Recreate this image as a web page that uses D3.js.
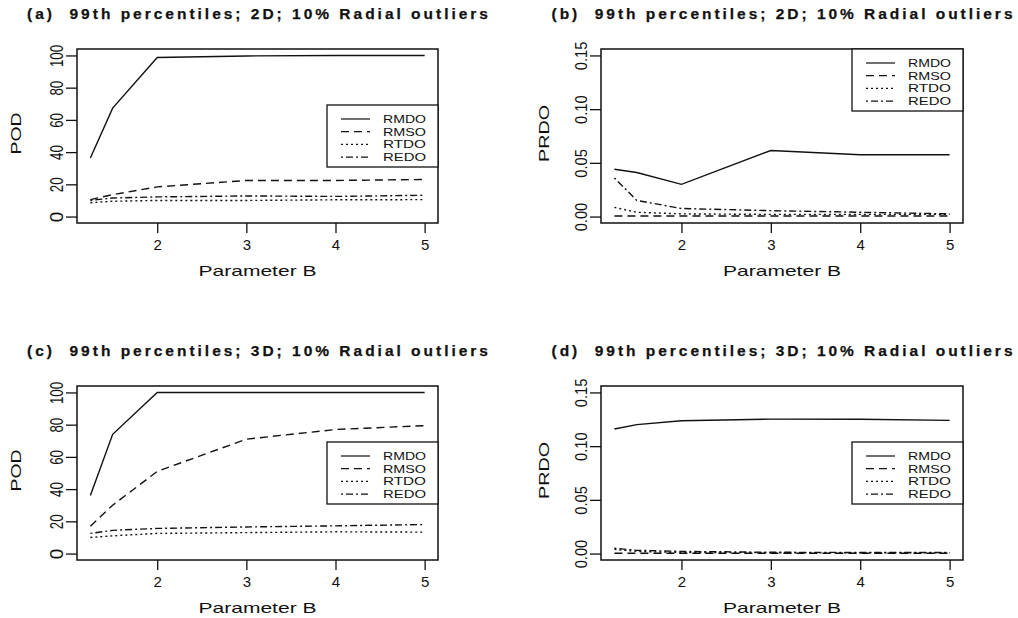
<!DOCTYPE html>
<html>
<head>
<meta charset="utf-8">
<script src="https://cdn.jsdelivr.net/npm/d3@7"></script>
<style>
  html, body { margin: 0; padding: 0; background: #fff; }
  svg { display: block; font-family: "Liberation Sans", Arial, sans-serif; }
  text { white-space: pre; }
</style>
</head>
<body>
<svg id="fig" width="1018" height="618"></svg>
<script>
// Parameter B values at which each detector was evaluated
const paramB = [1.25, 1.5, 2, 3, 4, 5];
const seriesNames = ["RMDO", "RMSO", "RTDO", "REDO"];

// (a) POD, 2D
const podRMDO2D = [36.4, 67.3, 98.7, 99.7, 100, 100];
const podRMSO2D = [10.5, 13.6, 18.4, 22.4, 22.4, 23.0];
const podRTDO2D = [8.6, 9.5, 10.0, 10.0, 10.4, 10.5];
const podREDO2D = [10.0, 11.5, 12.2, 12.8, 12.5, 13.2];

// (b) PRDO, 2D
const prdoRMDO2D = [0.044, 0.041, 0.030, 0.0615, 0.0575, 0.0575];
const prdoRMSO2D = [0.0005, 0.0005, 0.0005, 0.0005, 0.0005, 0.0005];
const prdoRTDO2D = [0.0085, 0.004, 0.0025, 0.002, 0.002, 0.002];
const prdoREDO2D = [0.036, 0.015, 0.0075, 0.0055, 0.004, 0.0025];

// (c) POD, 3D
const podRMDO3D = [36, 74, 100, 100, 100, 100];
const podRMSO3D = [17, 30, 51, 71, 77, 79.4];
const podRTDO3D = [10, 11, 12.5, 13, 13.5, 13.3];
const podREDO3D = [12.5, 14.4, 15.6, 16.5, 17.2, 18];

// (d) PRDO, 3D
const prdoRMDO3D = [0.116, 0.120, 0.1236, 0.1252, 0.125, 0.124];
const prdoRMSO3D = [0.0003, 0.0003, 0.0003, 0.0003, 0.0003, 0.0003];
const prdoRTDO3D = [0.004, 0.002, 0.001, 0.0008, 0.0008, 0.0008];
const prdoREDO3D = [0.005, 0.003, 0.002, 0.0012, 0.001, 0.001];

// tick labels
const xTicks = [2, 3, 4, 5];
const xTickLabels = ["2", "3", "4", "5"];
const podTicks = [0, 20, 40, 60, 80, 100];
const podTickLabels = ["0", "20", "40", "60", "80", "100"];
const prdoTicks = [0, 0.05, 0.10, 0.15];
const prdoTickLabels = ["0.00", "0.05", "0.10", "0.15"];

// line styles, one per method
const dashes = { RMDO: null, RMSO: "8,5", RTDO: "2,3", REDO: "2,3,7,3" };

const panels = [
  { title: "(a)  99th percentiles; 2D; 10% Radial outliers", box: [77, 49, 438, 223],
    yLabel: "POD", yMax: 100, yTicks: podTicks, yTickLabels: podTickLabels,
    values: [podRMDO2D, podRMSO2D, podRTDO2D, podREDO2D], legend: [327, 105], tickFont: 19, tickSq: 0.7 },
  { title: "(b)  99th percentiles; 2D; 10% Radial outliers", box: [601, 49, 963, 223],
    yLabel: "PRDO", yMax: 0.15, yTicks: prdoTicks, yTickLabels: prdoTickLabels,
    values: [prdoRMDO2D, prdoRMSO2D, prdoRTDO2D, prdoREDO2D], legend: [852, 49], tickFont: 16, tickSq: 0.92 },
  { title: "(c)  99th percentiles; 3D; 10% Radial outliers", box: [77, 386, 438, 560],
    yLabel: "POD", yMax: 100, yTicks: podTicks, yTickLabels: podTickLabels,
    values: [podRMDO3D, podRMSO3D, podRTDO3D, podREDO3D], legend: [327, 442], tickFont: 19, tickSq: 0.7 },
  { title: "(d)  99th percentiles; 3D; 10% Radial outliers", box: [601, 386, 963, 560],
    yLabel: "PRDO", yMax: 0.15, yTicks: prdoTicks, yTickLabels: prdoTickLabels,
    values: [prdoRMDO3D, prdoRMSO3D, prdoRTDO3D, prdoREDO3D], legend: [852, 442], tickFont: 16, tickSq: 0.92 }
];

const svg = d3.select("#fig");
const ink = "#111";

panels.forEach(p => {
  const [x0, y0, x1, y1] = p.box;
  const g = svg.append("g");

  // 4% padding on both axes, as in base graphics
  const xr = d3.extent(paramB), xpad = (xr[1] - xr[0]) * 0.04;
  const ypad = p.yMax * 0.04;
  const x = d3.scaleLinear().domain([xr[0] - xpad, xr[1] + xpad]).range([x0, x1]);
  const y = d3.scaleLinear().domain([-ypad, p.yMax + ypad]).range([y1, y0]);

  // x axis: ticks hang below the box
  const xa = g.append("g").attr("transform", `translate(0,${y1})`)
    .call(d3.axisBottom(x).tickValues(xTicks).tickSize(10).tickSizeOuter(0)
      .tickFormat((d, i) => xTickLabels[i]));
  xa.select(".domain").remove();
  xa.selectAll(".tick line").attr("stroke", ink).attr("stroke-width", 1.3);
  xa.selectAll(".tick text").attr("font-size", 15).attr("fill", ink)
    .attr("font-family", "Liberation Sans, Arial, sans-serif")
    .attr("dy", null).attr("y", 26.5);

  // y axis: ticks to the left, labels rotated parallel to the axis
  const ya = g.append("g").attr("transform", `translate(${x0},0)`)
    .call(d3.axisLeft(y).tickValues(p.yTicks).tickSize(11).tickSizeOuter(0)
      .tickFormat((d, i) => p.yTickLabels[i]));
  ya.select(".domain").remove();
  ya.selectAll(".tick line").attr("stroke", ink).attr("stroke-width", 1.3);
  ya.selectAll(".tick text")
    .attr("font-size", p.tickFont).attr("fill", ink)
    .attr("font-family", "Liberation Sans, Arial, sans-serif")
    .attr("x", null).attr("dy", null)
    .attr("text-anchor", "middle")
    .attr("transform", "translate(-14,0) rotate(-90)")
    .each(function () {
      const t = d3.select(this);
      const w = this.getComputedTextLength();
      if (t.text().length > 1) t.attr("textLength", w * p.tickSq).attr("lengthAdjust", "spacingAndGlyphs");
    });

  // series lines
  const line = d3.line().x((d, i) => x(paramB[i])).y(d => y(d));
  seriesNames.forEach((name, k) => {
    g.append("path").datum(p.values[k])
      .attr("d", line).attr("fill", "none")
      .attr("stroke", ink).attr("stroke-width", 1.4)
      .attr("stroke-dasharray", dashes[name]);
  });

  // frame
  g.append("rect").attr("x", x0).attr("y", y0).attr("width", x1 - x0).attr("height", y1 - y0)
    .attr("fill", "none").attr("stroke", ink).attr("stroke-width", 1.5);

  // title
  g.append("text").text(p.title)
    .attr("x", (x0 + x1) / 2).attr("y", y0 - 30)
    .attr("text-anchor", "middle").attr("font-weight", "bold").attr("font-size", 15.5)
    .attr("fill", ink).attr("stroke", ink).attr("stroke-width", 0.25)
    .attr("textLength", 461).attr("lengthAdjust", "spacing");

  // x axis title
  g.append("text").text("Parameter B")
    .attr("x", (x0 + x1) / 2).attr("y", y1 + 53)
    .attr("text-anchor", "middle").attr("font-size", 15).attr("fill", ink)
    .attr("textLength", 118).attr("lengthAdjust", "spacingAndGlyphs");

  // y axis title
  const ylx = p.yLabel === "POD" ? x0 - 56 : x0 - 52;
  g.append("text").text(p.yLabel)
    .attr("transform", `translate(${ylx},${(y0 + y1) / 2 - 2.5}) rotate(-90)`)
    .attr("text-anchor", "middle").attr("font-size", 15).attr("fill", ink)
    .attr("textLength", p.yLabel === "POD" ? 42 : 57).attr("lengthAdjust", "spacingAndGlyphs");

  // legend
  const [lx, ly] = p.legend;
  const lg = g.append("g");
  lg.append("rect").attr("x", lx).attr("y", ly).attr("width", x1 - lx).attr("height", 62)
    .attr("fill", "#fff").attr("stroke", ink).attr("stroke-width", 1.3);
  seriesNames.forEach((name, k) => {
    const cy = ly + 14 + k * 12.7;
    lg.append("line").attr("x1", lx + 14).attr("x2", lx + 43).attr("y1", cy).attr("y2", cy)
      .attr("stroke", ink).attr("stroke-width", 1.2).attr("stroke-dasharray", dashes[name]);
    lg.append("text").text(name).attr("x", lx + 56).attr("y", cy + 3.8)
      .attr("font-size", 10.5).attr("fill", ink)
      .attr("textLength", 43).attr("lengthAdjust", "spacingAndGlyphs");
  });
});
</script>
</body>
</html>
